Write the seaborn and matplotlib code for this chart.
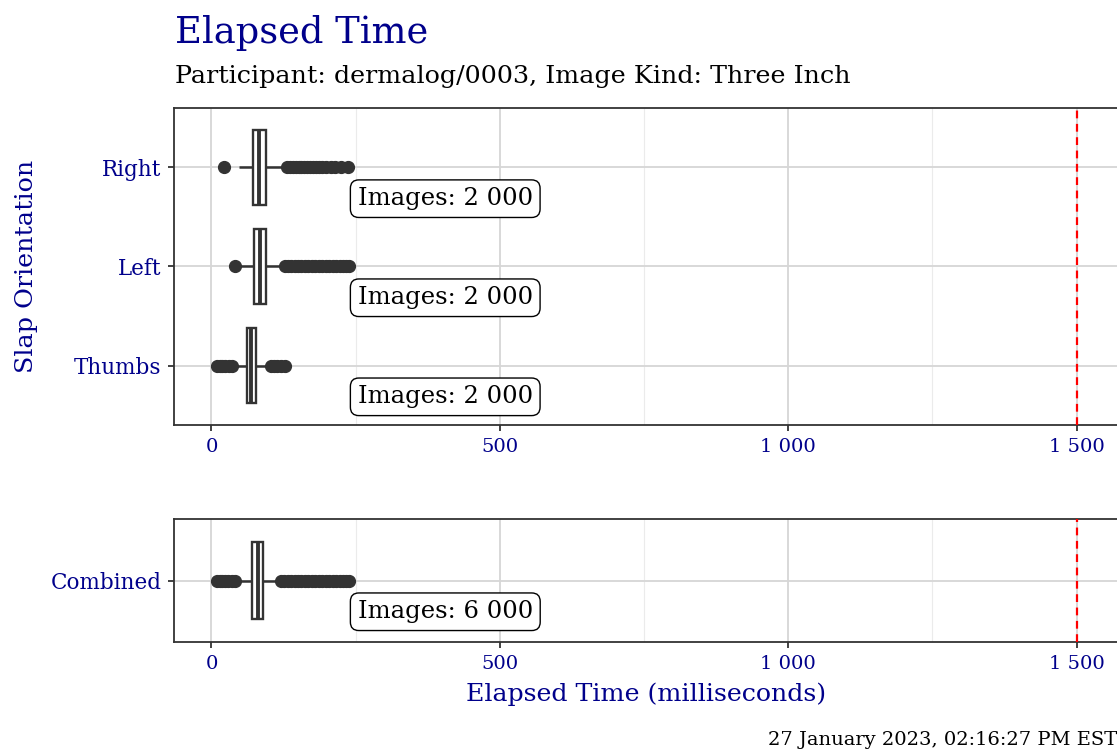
import numpy as np
import pandas as pd
import matplotlib
matplotlib.use("Agg")
import matplotlib.pyplot as plt
from matplotlib.ticker import FixedLocator
import seaborn as sns

# ---------------- data ----------------
categories = ["Right", "Left", "Thumbs"]
box_q1 = [72, 74, 62]
box_median = [82, 84, 68]
box_q3 = [95, 94, 78]
whisker_low = [47, 50, 40]
whisker_high = [128, 122, 100]
low_outliers = [[21], [41], [9, 14, 19, 24, 30, 36]]
high_outliers = [
    [131, 136, 141, 146, 151, 156, 161, 166, 171, 176, 181, 186, 192, 198, 207, 214, 224, 237],
    [127, 132, 138, 144, 150, 156, 162, 168, 174, 180, 186, 192, 198, 204, 210, 216, 222, 228, 233, 239],
    [103, 108, 114, 120, 128],
]
image_counts = [2000, 2000, 2000]

combined_category = ["Combined"]
combined_q1 = [71]
combined_median = [80]
combined_q3 = [90]
combined_whisker_low = [45]
combined_whisker_high = [117]
combined_low_outliers = [[9, 14, 19, 24, 29, 35, 41]]
combined_high_outliers = [[120, 126, 132, 138, 144, 150, 156, 162, 168, 174, 180, 186,
                           192, 198, 204, 210, 216, 222, 228, 234, 239]]
combined_counts = [6000]

x_ticks = [0, 500, 1000, 1500]
x_tick_labels = ["0", "500", "1 000", "1 500"]
x_minor = [250, 750, 1250]
threshold = 1500

title = "Elapsed Time"
subtitle = "Participant: dermalog/0003, Image Kind: Three Inch"
xlabel = "Elapsed Time (milliseconds)"
ylabel = "Slap Orientation"
footer = "27 January 2023, 02:16:27 PM EST"


def build_frame(cats, q1, med, q3, wlo, whi, lows, highs):
    rows = []
    for i, c in enumerate(cats):
        vals = (list(lows[i]) + [wlo[i]] + [q1[i]] * 40 + [med[i]] * 40 +
                [q3[i]] * 40 + [whi[i]] + list(highs[i]))
        rows += [(c, v) for v in vals]
    return pd.DataFrame(rows, columns=["group", "ms"])


df_top = build_frame(categories, box_q1, box_median, box_q3, whisker_low,
                     whisker_high, low_outliers, high_outliers)
df_bot = build_frame(combined_category, combined_q1, combined_median, combined_q3,
                     combined_whisker_low, combined_whisker_high,
                     combined_low_outliers, combined_high_outliers)

# ---------------- style ----------------
sns.set_theme(style="white")
plt.rcParams["font.family"] = ["DejaVu Serif"]

DARKBLUE = "#00008B"
DARK = "#333333"
W, H = 1117, 750
fig = plt.figure(figsize=(W / 100, H / 100), dpi=100)

xlim = (-65, 1570)
left_px, right_px = 174, 1117


def fig_rect(top_px, bottom_px):
    return [left_px / W, 1 - bottom_px / H, (right_px - left_px) / W, (bottom_px - top_px) / H]


ax1 = fig.add_axes(fig_rect(108, 425))
ax2 = fig.add_axes(fig_rect(519, 642))


def draw_panel(ax, df, cats, counts):
    sns.boxplot(data=df, x="ms", y="group", order=cats, orient="h",
                color="white", linecolor=DARK, linewidth=1.7, width=0.76,
                whis=1.5, showcaps=False, fliersize=8.5,
                flierprops=dict(marker="o", markerfacecolor=DARK, markeredgecolor=DARK),
                medianprops=dict(linewidth=2.8, color=DARK),
                whiskerprops=dict(linewidth=1.8, color=DARK), ax=ax, zorder=3)
    ax.axvline(threshold, color="red", lw=1.6, ls=(0, (3.5, 2.5)), zorder=4)
    ax.set_xlim(*xlim)
    n = len(cats)
    ax.set_ylim(n - 1 + 0.6, -0.6)
    ax.xaxis.set_major_locator(FixedLocator(x_ticks))
    ax.xaxis.set_minor_locator(FixedLocator(x_minor))
    ax.set_xticklabels(x_tick_labels)
    ax.grid(True, which="major", axis="both", color="#d6d6d6", lw=1.3, zorder=0)
    ax.grid(True, which="minor", axis="x", color="#ebebeb", lw=0.8, zorder=0)
    ax.set_axisbelow(True)
    for s in ["top", "left", "bottom"]:
        ax.spines[s].set_color(DARK)
        ax.spines[s].set_linewidth(1.3)
    ax.spines["right"].set_visible(False)
    ax.tick_params(axis="both", which="major", length=4.5, width=1.3, color=DARK,
                   labelcolor=DARKBLUE, direction="out", bottom=True, left=True)
    ax.tick_params(axis="x", which="major", labelsize=14, pad=5)
    ax.tick_params(axis="y", which="major", labelsize=15.5, pad=4.5)
    ax.tick_params(axis="x", which="minor", length=0)
    ax.set_xlabel("")
    ax.set_ylabel("")
    xmax = df["ms"].max()
    for i, c in enumerate(cats):
        ax.annotate(f"Images: {counts[i]:,}".replace(",", " "),
                    xy=(xmax, i), xycoords="data",
                    xytext=(6.0, -22.5), textcoords="offset points",
                    ha="left", va="center", fontsize=17.5, color="black",
                    bbox=dict(boxstyle="round,pad=0.3,rounding_size=0.35",
                              fc="white", ec="black", lw=1.0), zorder=6)


draw_panel(ax1, df_top, categories, image_counts)
draw_panel(ax2, df_bot, combined_category, combined_counts)

fig.text(175 / W, 1 - 43 / H, title, fontsize=26.5, color=DARKBLUE, ha="left", va="baseline")
fig.text(175 / W, 1 - 83 / H, subtitle, fontsize=18.3, color="black", ha="left", va="baseline")
fig.text(27 / W, 1 - 266 / H, ylabel, fontsize=18.3, color=DARKBLUE, rotation=90,
         ha="center", va="center")
fig.text(646 / W, 1 - 694 / H, xlabel, fontsize=18.2, color=DARKBLUE, ha="center", va="center")
fig.text(1117 / W, 1 - 745 / H, footer, fontsize=14, color="black", ha="right", va="baseline")

fig.savefig("out.png", dpi=100)
